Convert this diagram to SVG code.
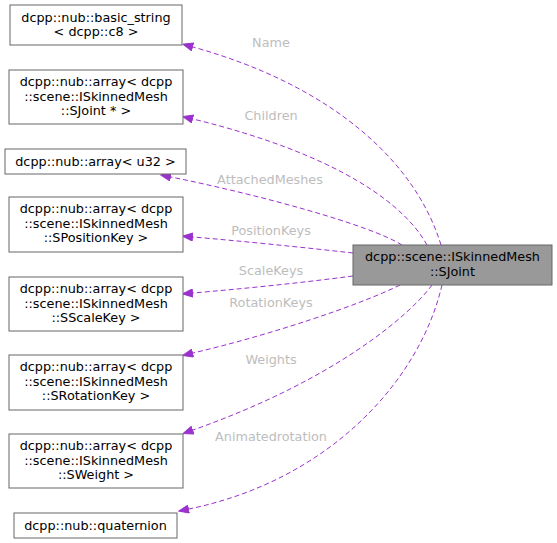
<svg xmlns="http://www.w3.org/2000/svg" width="557" height="543" viewBox="0 0 557 543">
<defs>
<style>
.box{fill:#ffffff;stroke:#666666;stroke-width:1}
.main{fill:#999999;stroke:#666666;stroke-width:1}
.t{font-family:"DejaVu Sans",sans-serif;font-size:12.8px;fill:#000000;text-anchor:middle}
.lbl{font-family:"DejaVu Sans",sans-serif;font-size:12.8px;fill:#bdbdbd;text-anchor:middle}
.e{fill:none;stroke:#9a32cd;stroke-width:1;stroke-dasharray:5,3;marker-end:url(#ah)}
</style>
<marker id="ah" viewBox="0 0 11 9" refX="0" refY="4.5" markerWidth="11" markerHeight="9" markerUnits="userSpaceOnUse" orient="auto">
<path d="M0.5,0.5 L10.5,4.5 L0.5,8.5 Z" fill="#9a32cd" stroke="#9a32cd"/>
</marker>
</defs>
<rect width="557" height="543" fill="#ffffff"/>
<g id="edges">
<path class="e" d="M441,245 C415,160 330,85 193,47"/>
<path class="e" d="M427,245 C405,205 340,155 193,119"/>
<path class="e" d="M402,245 C370,225 260,195 171,177"/>
<path class="e" d="M353,253 C300,247 240,241 193,237"/>
<path class="e" d="M353,276 C300,283 240,289 193,293"/>
<path class="e" d="M400,285 C360,305 270,335 193,353"/>
<path class="e" d="M432,285 C410,315 335,380 193,430"/>
<path class="e" d="M442,285 C420,380 330,480 189,509"/>
<text class="lbl" x="271" y="47">Name</text>
<text class="lbl" x="271" y="120">Children</text>
<text class="lbl" x="270" y="184">AttachedMeshes</text>
<text class="lbl" x="271" y="235">PositionKeys</text>
<text class="lbl" x="271" y="275">ScaleKeys</text>
<text class="lbl" x="271" y="307">RotationKeys</text>
<text class="lbl" x="271" y="364">Weights</text>
<text class="lbl" x="271" y="441">Animatedrotation</text>
</g>
<g id="main">
<rect class="main" x="353" y="245" width="199" height="40"/>
<text class="t" x="452.5" y="261">dcpp::scene::ISkinnedMesh</text>
<text class="t" x="452.5" y="275.5">::SJoint</text>
</g>
<g id="n_name">
<rect class="box" x="10" y="5" width="172" height="40"/>
<text class="t" x="96" y="21.5">dcpp::nub::basic_string</text>
<text class="t" x="96" y="36">&lt; dcpp::c8 &gt;</text>
</g>
<g id="n_children">
<rect class="box" x="9" y="70" width="174" height="54"/>
<text class="t" x="96" y="86">dcpp::nub::array&lt; dcpp</text>
<text class="t" x="96" y="100.5">::scene::ISkinnedMesh</text>
<text class="t" x="96" y="115">::SJoint * &gt;</text>
</g>
<g id="n_u32">
<rect class="box" x="5" y="149" width="181" height="25"/>
<text class="t" x="95.5" y="165.5">dcpp::nub::array&lt; u32 &gt;</text>
</g>
<g id="n_pos">
<rect class="box" x="9" y="197" width="174" height="55"/>
<text class="t" x="96" y="213">dcpp::nub::array&lt; dcpp</text>
<text class="t" x="96" y="227.5">::scene::ISkinnedMesh</text>
<text class="t" x="96" y="242">::SPositionKey &gt;</text>
</g>
<g id="n_scale">
<rect class="box" x="9" y="277" width="174" height="54"/>
<text class="t" x="96" y="293">dcpp::nub::array&lt; dcpp</text>
<text class="t" x="96" y="307.5">::scene::ISkinnedMesh</text>
<text class="t" x="96" y="322">::SScaleKey &gt;</text>
</g>
<g id="n_rot">
<rect class="box" x="9" y="355" width="174" height="55"/>
<text class="t" x="96" y="371">dcpp::nub::array&lt; dcpp</text>
<text class="t" x="96" y="385.5">::scene::ISkinnedMesh</text>
<text class="t" x="96" y="400">::SRotationKey &gt;</text>
</g>
<g id="n_weight">
<rect class="box" x="9" y="434" width="174" height="54"/>
<text class="t" x="96" y="450">dcpp::nub::array&lt; dcpp</text>
<text class="t" x="96" y="464.5">::scene::ISkinnedMesh</text>
<text class="t" x="96" y="479">::SWeight &gt;</text>
</g>
<g id="n_quat">
<rect class="box" x="14" y="513" width="163" height="25"/>
<text class="t" x="95.5" y="529.5">dcpp::nub::quaternion</text>
</g>
</svg>
